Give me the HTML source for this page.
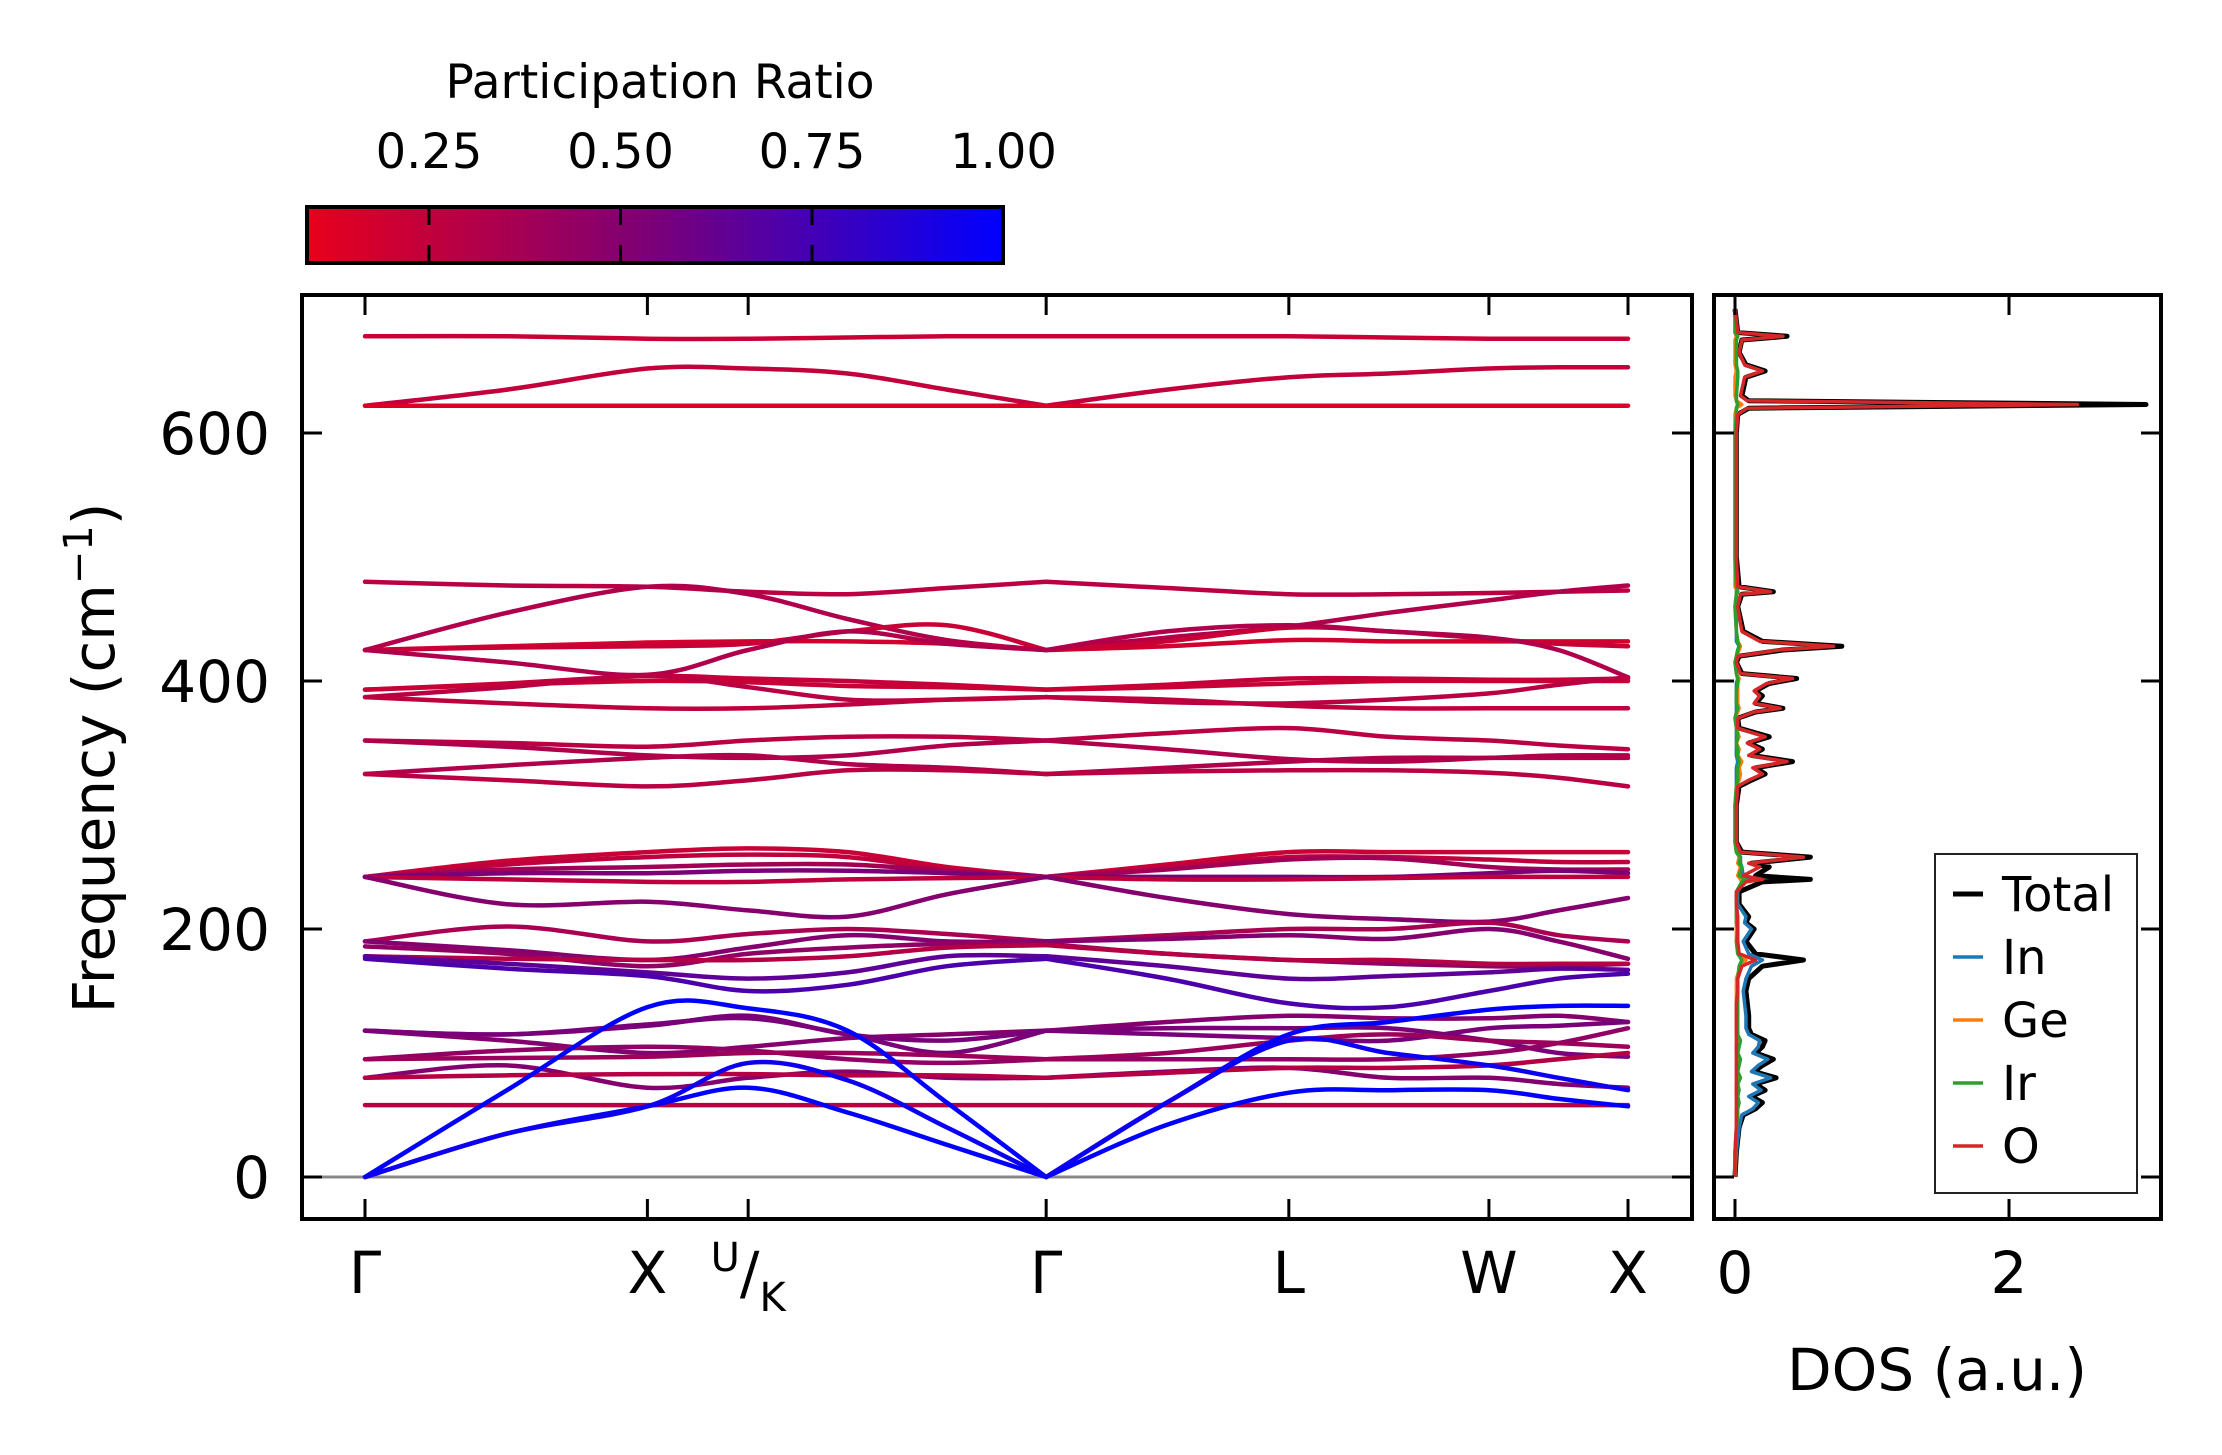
<!DOCTYPE html>
<html><head><meta charset="utf-8"><style>
html,body{margin:0;padding:0;background:#fff;}
svg{display:block;font-family:"DejaVu Sans","Liberation Sans",sans-serif;}
</style></head><body>
<svg id="fig" width="2222" height="1455" viewBox="0 0 2222 1455" xmlns="http://www.w3.org/2000/svg">
<defs>
<linearGradient id="cmap" x1="0" x2="1" y1="0" y2="0">
<stop offset="0" stop-color="#e8001c"/><stop offset="0.5" stop-color="#7a0078"/><stop offset="1" stop-color="#0000ff"/>
</linearGradient>
<clipPath id="mainclip"><rect x="302" y="295" width="1390" height="924"/></clipPath>
<clipPath id="dosclip"><rect x="1714" y="295" width="447" height="924"/></clipPath>
</defs>
<g>
<text x="660" y="98" font-size="47" text-anchor="middle">Participation Ratio</text>
<rect x="307" y="207" width="696" height="56" fill="url(#cmap)" stroke="#000" stroke-width="4"/>
<g id="cbticks"></g>
</g>
<g id="main">
<line x1="302" x2="1692" y1="1177" y2="1177" stroke="#888" stroke-width="3"/>
<g id="bands" clip-path="url(#mainclip)"></g>
<rect x="302" y="295" width="1390" height="924" fill="none" stroke="#000" stroke-width="4"/>
<g id="mainticks"></g>
<text transform="translate(114,758) rotate(-90)" font-size="58" text-anchor="middle">Frequency (cm<tspan dy="-22" font-size="40">−1</tspan><tspan dy="22">)</tspan></text>
</g>
<g id="dos">
<g id="doslines" clip-path="url(#dosclip)"></g>
<rect x="1714" y="295" width="447" height="924" fill="none" stroke="#000" stroke-width="4"/>
<g id="dosticks"></g>
<text x="1937" y="1390" font-size="58" text-anchor="middle">DOS (a.u.)</text>
<g>
<rect x="1935" y="854" width="202" height="339" fill="#fff" stroke="#222" stroke-width="2"/>
<g id="legend"></g>
</g>
</g>
</svg>
<script>
// ---- data ----
const kLabels = ["Γ","X","U/K","Γ","L","W","X"];
const kTicks = [0,199,270,480,651,792,890];
const kNodes = [0,100,199,270,340,410,480,565,651,721,792,841,890];
const freqTicks = [0,200,400,600];
const cbTicks = [0.25,0.5,0.75,1.0];
const dosTicks = [0,2];

const b01=[678,678,676,676,677,678,678,678,678,677,676,676,676];
const b02=[622,635,652,652,648,635,622,635,645,648,652,653,653];
const b03=[622,622,622,622,622,622,622,622,622,622,622,622,622];
const b04=[480,477,476,472,470,475,480,475,470,470,471,472,473];
const b05=[425,455,476,470,450,433,425,435,444,455,465,472,477];
const b06=[425,428,431,432,432,430,425,428,433,432,432,432,432];
const b07=[425,427,428,430,440,445,425,432,443,440,434,430,428];
const b08=[425,415,405,425,440,430,425,440,445,440,435,425,403];
const b09=[393,398,404,402,400,397,393,397,402,402,401,401,402];
const b10=[393,397,400,399,396,395,393,395,398,400,400,400,400];
const b11=[387,395,404,395,385,385,387,383,382,385,390,397,403];
const b12=[387,382,378,378,381,385,387,385,380,378,378,378,378];
const b13=[352,350,347,352,355,355,352,358,362,355,352,348,345];
const b14=[352,347,340,338,340,348,352,345,337,335,338,340,340];
const b15=[325,332,338,340,333,330,325,330,335,338,338,338,338];
const b16=[325,320,315,320,328,328,325,327,328,328,326,322,315];
const b17=[242,255,262,265,262,250,242,252,262,262,262,262,262];
const b18=[242,252,258,260,258,248,242,250,258,258,256,254,254];
const b19=[242,248,250,252,252,247,242,248,256,257,250,248,248];
const b20=[242,245,245,247,247,245,242,242,242,242,245,247,245];
const b21=[242,240,238,238,240,241,242,240,240,241,242,242,242];
const b22=[242,220,222,215,210,228,242,225,212,208,206,215,225];
const b23=[190,202,190,196,200,196,190,195,200,200,205,195,190];
const b24=[190,183,175,185,195,190,190,192,195,192,200,190,176];
const b25=[186,180,170,180,185,188,188,180,175,172,170,170,172];
const b26=[178,176,175,175,178,185,187,180,175,175,172,172,172];
const b27=[178,172,165,160,165,178,178,170,160,162,165,168,167];
const b28=[176,168,162,150,155,170,176,160,140,137,150,160,164];
const b29=[118,115,123,128,115,100,118,120,120,120,110,100,97];
const b30=[118,110,100,105,112,115,118,125,130,128,128,130,125];
const b31=[118,115,122,130,115,110,118,115,112,110,120,122,125];
const b32=[95,102,105,102,95,92,95,95,95,95,100,108,120];
const b33=[95,96,97,100,100,98,95,100,110,115,110,108,105];
const b34=[80,90,72,80,85,80,80,85,88,80,80,75,72];
const b35=[80,82,83,83,82,82,80,84,88,88,90,95,100];
const b36=[58,58,58,58,58,58,58,58,58,58,58,58,58];
const a1=[0,70,137,136,118,60,0,60,115,125,135,138,138];
const a2=[0,35,57,72,52,26,0,42,68,70,70,63,57];
const a3=[0,35,57,92,78,40,0,60,110,100,90,80,70];
const bandSeries=[b01,b02,b03,b04,b05,b06,b07,b08,b09,b10,b11,b12,b13,b14,b15,b16,b17,b18,b19,b20,b21,b22,b23,b24,b25,b26,b27,b28,b29,b30,b31,b32,b33,b34,b35,b36,a1,a2,a3];
const bandRatio=[0.22,0.25,0.14,0.28,0.32,0.18,0.22,0.32,0.24,0.22,0.28,0.26,0.28,0.32,0.32,0.28,0.22,0.26,0.38,0.55,0.26,0.5,0.35,0.5,0.45,0.3,0.65,0.72,0.55,0.5,0.55,0.45,0.4,0.5,0.3,0.28,1.0,1.0,0.95];

const dosFreq=[0,20,40,50,55,60,65,70,75,80,85,90,95,100,105,110,115,120,130,140,150,160,170,175,180,190,200,205,210,220,230,238,240,243,250,253,258,262,270,300,315,320,325,330,335,340,345,350,355,362,370,375,378,382,388,392,398,402,406,415,420,425,428,432,440,460,470,472,476,500,600,615,620,623,626,630,645,650,655,665,675,678,681,700];
const dosTotal=[0,0.01,0.03,0.06,0.15,0.2,0.12,0.22,0.15,0.3,0.14,0.2,0.28,0.15,0.2,0.22,0.12,0.1,0.1,0.09,0.08,0.1,0.2,0.5,0.15,0.08,0.14,0.08,0.1,0.03,0.03,0.2,0.55,0.15,0.25,0.12,0.55,0.05,0.01,0.01,0.03,0.12,0.22,0.15,0.42,0.12,0.2,0.1,0.25,0.03,0.02,0.15,0.35,0.15,0.2,0.15,0.25,0.45,0.05,0.01,0.03,0.35,0.78,0.2,0.06,0.02,0.05,0.28,0.03,0.01,0.01,0.02,0.1,3.0,0.1,0.05,0.08,0.22,0.08,0.03,0.05,0.38,0.02,0];
const dosIn=[0,0.01,0.03,0.05,0.13,0.17,0.1,0.19,0.13,0.26,0.12,0.17,0.24,0.13,0.17,0.18,0.1,0.08,0.08,0.07,0.06,0.08,0.12,0.2,0.1,0.06,0.12,0.07,0.08,0.02,0.02,0.06,0.12,0.06,0.05,0.04,0.04,0.02,0.01,0.01,0.01,0.01,0.01,0.01,0.02,0.01,0.01,0.01,0.01,0.01,0.01,0.01,0.01,0.01,0.01,0.01,0.01,0.02,0.01,0.01,0.01,0.02,0.03,0.01,0.01,0.01,0.01,0.01,0.01,0.01,0.01,0.01,0.01,0.02,0.01,0.01,0.01,0.01,0.01,0.01,0.01,0.01,0.01,0];
const dosGe=[0,0,0.01,0.01,0.01,0.02,0.01,0.01,0.01,0.02,0.01,0.02,0.02,0.01,0.01,0.02,0.01,0.01,0.01,0.01,0.01,0.01,0.04,0.08,0.02,0.01,0.01,0.01,0.01,0.01,0.01,0.05,0.04,0.02,0.04,0.02,0.03,0.01,0,0,0.01,0.03,0.04,0.03,0.05,0.02,0.03,0.01,0.03,0.01,0,0.02,0.03,0.02,0.02,0.02,0.02,0.03,0.01,0,0.01,0.03,0.04,0.02,0.01,0,0.01,0.02,0,0,0,0,0.01,0.05,0.01,0,0,0.01,0,0,0,0.01,0,0];
const dosIr=[0,0,0.01,0.02,0.02,0.03,0.02,0.03,0.02,0.04,0.02,0.03,0.04,0.02,0.03,0.04,0.02,0.02,0.02,0.02,0.02,0.02,0.03,0.05,0.02,0.01,0.02,0.01,0.01,0.01,0.01,0.05,0.08,0.03,0.05,0.03,0.04,0.01,0,0,0.01,0.02,0.02,0.02,0.03,0.02,0.02,0.01,0.02,0.01,0,0.01,0.02,0.01,0.01,0.01,0.02,0.02,0.01,0,0.01,0.02,0.03,0.02,0.01,0,0.01,0.02,0.01,0,0,0.01,0.01,0.02,0.01,0.01,0.02,0.02,0.01,0.01,0.01,0.02,0,0];
const dosO=[0,0,0.01,0.01,0.01,0.01,0.01,0.01,0.01,0.01,0.01,0.01,0.01,0.01,0.01,0.01,0.01,0.01,0.01,0.01,0.02,0.02,0.05,0.15,0.03,0.02,0.02,0.02,0.02,0.01,0.01,0.08,0.2,0.06,0.18,0.1,0.5,0.04,0.01,0.01,0.02,0.1,0.2,0.13,0.38,0.1,0.18,0.09,0.22,0.02,0.02,0.14,0.33,0.14,0.18,0.14,0.23,0.42,0.04,0.01,0.02,0.32,0.72,0.18,0.05,0.02,0.04,0.26,0.02,0.01,0.01,0.02,0.09,2.5,0.09,0.04,0.07,0.2,0.07,0.03,0.05,0.35,0.02,0];
const dosNames=["Total","In","Ge","Ir","O"];
const dosColors=["#000000","#1f77b4","#ff7f0e","#2ca02c","#d62728"];
const dosSeries=[dosTotal,dosIn,dosGe,dosIr,dosO];

// ---- scales ----
const NS="http://www.w3.org/2000/svg";
const xK=k=>365+(k-0)*(1628-365)/890;
const yF=f=>1177-f*(1177-433)/600;
const xD=d=>1735+d*(2009-1735)/2;
const xCB=r=>429+(r-0.25)*(812-429)/0.5;
function mk(tag,attrs,parent){const e=document.createElementNS(NS,tag);for(const a in attrs)e.setAttribute(a,attrs[a]);parent.appendChild(e);return e;}
function cmapColor(r){
  const t=Math.max(0,Math.min(1,(r-0.09)/0.91));
  let c;
  if(t<0.5){const u=t/0.5;c=[232+(122-232)*u,0,28+(120-28)*u];}
  else{const u=(t-0.5)/0.5;c=[122*(1-u),0,120+(255-120)*u];}
  return `rgb(${c.map(Math.round).join(",")})`;
}
function spline(pts){
  let d=`M${pts[0][0]},${pts[0][1]}`;
  for(let i=0;i<pts.length-1;i++){
    const p0=pts[Math.max(0,i-1)],p1=pts[i],p2=pts[i+1],p3=pts[Math.min(pts.length-1,i+2)];
    const c1=[p1[0]+(p2[0]-p0[0])/6,p1[1]+(p2[1]-p0[1])/6];
    const c2=[p2[0]-(p3[0]-p1[0])/6,p2[1]-(p3[1]-p1[1])/6];
    d+=` C${c1[0]},${c1[1]} ${c2[0]},${c2[1]} ${p2[0]},${p2[1]}`;
  }
  return d;
}

// colorbar ticks
const cbG=document.getElementById('cbticks');
cbTicks.forEach(v=>{
  const x=xCB(v);
  if(v<1){
    const t1=mk('line',{x1:x,x2:x,y1:207,y2:225,stroke:'#000','stroke-width':3},cbG);
    
    
    const t2=mk('line',{x1:x,x2:x,y1:245,y2:263,stroke:'#000','stroke-width':3},cbG);
    
    
  }
  const tx=mk('text',{x:x,y:168,'font-size':48,'text-anchor':'middle'},cbG);
  tx.textContent=v.toFixed(2);
  
  
});

// bands
const bG=document.getElementById('bands');
bandSeries.forEach((s,i)=>{
  const pts=s.map((f,j)=>[xK(kNodes[j]),yF(f)]);
  const segs=[[0,6],[6,12]];
  segs.forEach(([a,b])=>{
    const p=mk('path',{d:spline(pts.slice(a,b+1)),fill:'none',stroke:cmapColor(bandRatio[i]),'stroke-width':4.5,'stroke-linecap':'round'},bG);
    
    
  });
});

// main ticks
const mT=document.getElementById('mainticks');
kTicks.forEach((k,i)=>{
  const x=xK(k);
  const t1=mk('line',{x1:x,x2:x,y1:297,y2:315,stroke:'#000','stroke-width':3},mT);
  
  
  const t2=mk('line',{x1:x,x2:x,y1:1199,y2:1217,stroke:'#000','stroke-width':3},mT);
  
  
  if(kLabels[i]==="U/K"){
    const g=mk('text',{x:x,y:1293,'font-size':58,'text-anchor':'middle'},mT);
    g.innerHTML='<tspan font-size="40" dy="-22">U</tspan><tspan dy="22">/</tspan><tspan font-size="40" dy="18">K</tspan>';
    
    
  } else {
    const g=mk('text',{x:x,y:1293,'font-size':58,'text-anchor':'middle'},mT);
    g.textContent=kLabels[i];
    
    
  }
});
freqTicks.forEach(f=>{
  const y=yF(f);
  const t1=mk('line',{x1:304,x2:322,y1:y,y2:y,stroke:'#000','stroke-width':3},mT);
  
  
  const t2=mk('line',{x1:1672,x2:1690,y1:y,y2:y,stroke:'#000','stroke-width':3},mT);
  
  
  const l=mk('text',{x:270,y:y+21,'font-size':58,'text-anchor':'end'},mT);
  l.textContent=f;
  
  
});

// DOS
const dG=document.getElementById('doslines');
dosSeries.forEach((s,i)=>{
  const d=s.map((v,j)=>(j?'L':'M')+xD(v)+','+yF(dosFreq[j])).join(' ');
  const p=mk('path',{d:d,fill:'none',stroke:dosColors[i],'stroke-width':i===0?5:3.5,'stroke-linejoin':'round'},dG);
  
  
});
const dT=document.getElementById('dosticks');
freqTicks.forEach(f=>{
  const y=yF(f);
  const t1=mk('line',{x1:1716,x2:1734,y1:y,y2:y,stroke:'#000','stroke-width':3},dT);
  
  
  const t2=mk('line',{x1:2141,x2:2159,y1:y,y2:y,stroke:'#000','stroke-width':3},dT);
  
  
});
dosTicks.forEach(v=>{
  const x=xD(v);
  const t1=mk('line',{x1:x,x2:x,y1:1199,y2:1217,stroke:'#000','stroke-width':3},dT);
  
  
  const t2=mk('line',{x1:x,x2:x,y1:297,y2:315,stroke:'#000','stroke-width':3},dT);
  
  
  const l=mk('text',{x:x,y:1293,'font-size':58,'text-anchor':'middle'},dT);
  l.textContent=v;
  
  
});
const lG=document.getElementById('legend');
dosNames.forEach((n,i)=>{
  const y=894+i*63;
  const ln=mk('line',{x1:1953,x2:1983,y1:y,y2:y,stroke:dosColors[i],'stroke-width':i===0?5:3.5},lG);
  
  
  const t=mk('text',{x:2002,y:y+17,'font-size':48},lG);
  t.textContent=n;
  
  
});
</script>
</body></html>
